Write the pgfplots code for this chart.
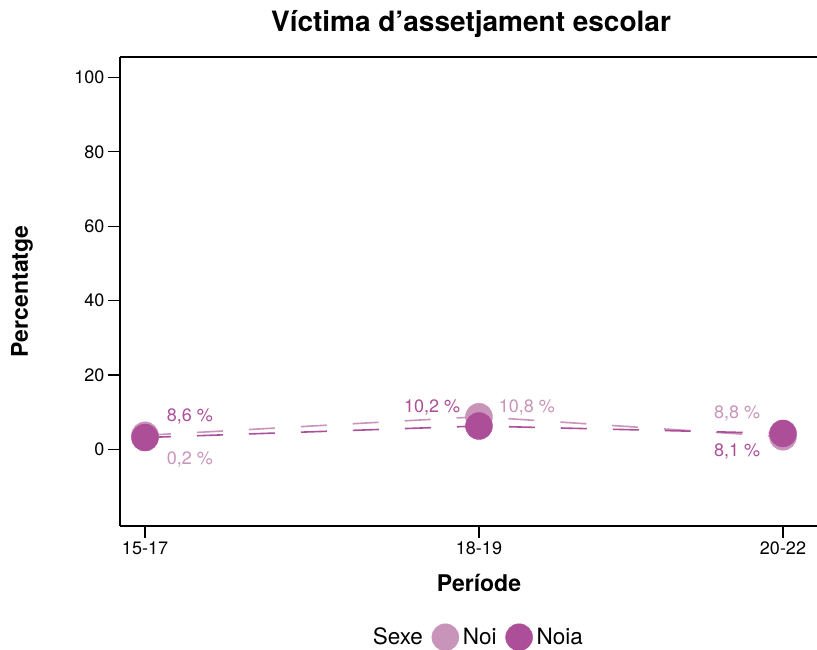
\documentclass[border=0pt]{standalone}
\usepackage{pgfplots}
\pgfplotsset{compat=1.18}
\usepackage{fontspec}
\setmainfont{TeX Gyre Heros}
\definecolor{noi}{HTML}{C994BA}
\definecolor{noia}{HTML}{AD4E98}
\begin{document}
\begin{tikzpicture}
\begin{axis}[
  scale only axis, width=697pt, height=468.7pt,
  xmin=-0.0784, xmax=2.1066, ymin=-20.5, ymax=105.5,
  axis x line=box, axis y line=left,
  y axis line style={-},
  axis line style={line width=1.6pt},
  xtick={0,1.047,2}, xticklabels={15-17,18-19,20-22},
  ytick={0,20,40,60,80,100},
  yticklabel={\fontsize{18}{20}\selectfont\pgfmathprintnumber[assume math mode=true]{\tick}},
  xtick pos=bottom, ytick pos=left,
  tick align=outside, major tick length=12pt,
  tick style={black, line width=1.1pt},
  tick label style={font=\fontsize{18}{20}\selectfont},
  /pgf/number format/assume math mode=true,
  xlabel={\bfseries Període},
  ylabel={\bfseries Percentatge},
  label style={font=\fontsize{23}{26}\selectfont},
  xlabel style={at={(axis description cs:0.515,-0.1223)}, anchor=center},
  ylabel style={at={(axis description cs:-0.1406,0.5)}, anchor=center},
  title={\bfseries Víctima d’assetjament escolar},
  title style={font=\fontsize{28}{32}\selectfont, at={(axis description cs:0.5036,1.0576)}, anchor=center},
  legend columns=-1,
  legend style={draw=none, at={(0.512,-0.238)}, anchor=center,
    font=\fontsize{22.5}{26}\selectfont,
    /tikz/every even column/.append style={column sep=7pt},
    /tikz/every odd column/.append style={column sep=2pt}},
  clip=false,
]
\addplot[noi, line width=1.6pt, dash pattern=on 26pt off 26pt, forget plot] coordinates {(0,3.8) (1.047,8.8) (2,3.4)};
\addplot[noia, line width=1.6pt, dash pattern=on 26pt off 26pt, forget plot] coordinates {(0,3.2) (1.047,6.3) (2,4.3)};
\addlegendimage{empty legend}
\addlegendentry{Sexe}
\addplot[only marks, mark=*, mark size=13.5pt, noi, mark options={fill=noi, draw=noi}] coordinates {(0,3.8) (1.047,8.8) (2,3.4)};
\addlegendentry{Noi}
\addplot[only marks, mark=*, mark size=13.5pt, noia, mark options={fill=noia, draw=noia}] coordinates {(0,3.2) (1.047,6.3) (2,4.3)};
\addlegendentry{Noia}
\node[noia, font=\fontsize{18}{20}\selectfont] at (axis cs:0.141,8.9) {8,6 \%};
\node[noi, font=\fontsize{18}{20}\selectfont] at (axis cs:0.141,-2.6) {0,2 \%};
\node[noia, font=\fontsize{18}{20}\selectfont] at (axis cs:0.900,11.4) {10,2 \%};
\node[noi, font=\fontsize{18}{20}\selectfont] at (axis cs:1.197,11.4) {10,8 \%};
\node[noi, font=\fontsize{18}{20}\selectfont] at (axis cs:1.856,9.8) {8,8 \%};
\node[noia, font=\fontsize{18}{20}\selectfont] at (axis cs:1.856,-0.45) {8,1 \%};
\end{axis}
\pgfresetboundingbox
\path (current axis.south west) ++(-120pt,-123.3pt) rectangle ++(817pt,649pt);
\end{tikzpicture}
\end{document}
